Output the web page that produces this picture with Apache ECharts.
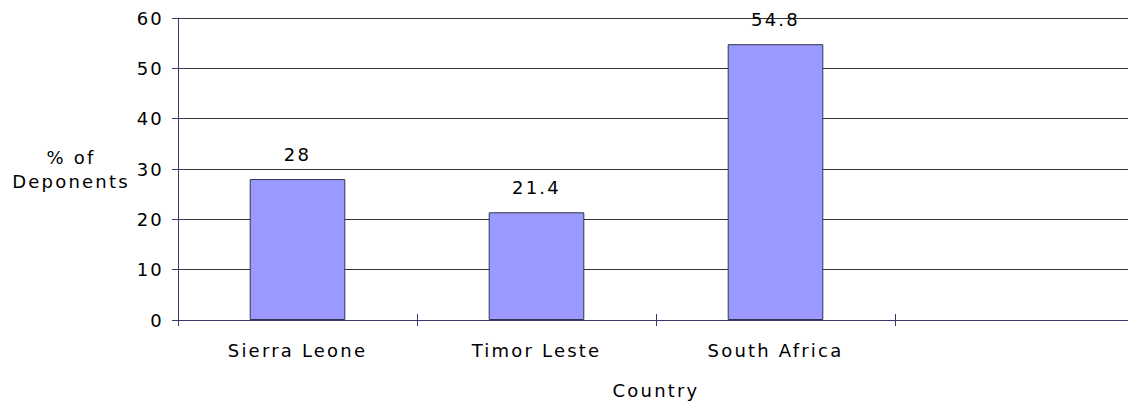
<!DOCTYPE html>
<html>
<head>
<meta charset="utf-8">
<script src="https://cdn.jsdelivr.net/npm/echarts@6/dist/echarts.min.js"></script>
<style>
  html, body { margin: 0; padding: 0; background: #fff; }
  #chart { width: 1128px; height: 404px; }
  #chart text { letter-spacing: 2.2px; }
</style>
</head>
<body>
<div id="chart"></div>
<script>
const categories = ['Sierra Leone', 'Timor Leste', 'South Africa', ''];
const values = [28, 21.4, 54.8, null];
const yTicks = { min: 0, max: 60, interval: 10 };
const yAxisName = '% of\nDeponents';
const xAxisName = 'Country';

const FONT = 'DejaVu Sans';
const chart = echarts.init(document.getElementById('chart'), null, { renderer: 'svg' });

const axisColor = '#3a3a6a';
const textBase = { color: '#000', fontFamily: FONT, fontSize: 18 };

chart.setOption({
  animation: false,
  backgroundColor: '#fff',
  grid: { left: 178, width: 956, top: 18, bottom: 84, containLabel: false, outerBoundsMode: 'none' },
  xAxis: [
    {
      type: 'category',
      data: categories,
      boundaryGap: true,
      axisLine: { show: true, lineStyle: { color: axisColor, width: 1 } },
      axisTick: { show: true, alignWithLabel: false, length: 6, lineStyle: { color: axisColor } },
      axisLabel: Object.assign({ margin: 21, interval: 0 }, textBase),
      name: xAxisName,
      nameLocation: 'middle',
      nameGap: 61,
      nameTextStyle: textBase,
      splitLine: { show: false }
    },
    {
      type: 'category',
      data: categories,
      position: 'bottom',
      boundaryGap: true,
      axisLine: { show: false },
      axisTick: { show: true, inside: true, length: 6, lineStyle: { color: axisColor } },
      axisLabel: { show: false },
      splitLine: { show: false }
    }
  ],
  yAxis: [
    {
      type: 'value',
      min: yTicks.min,
      max: yTicks.max,
      interval: yTicks.interval,
      axisLine: { show: true, lineStyle: { color: axisColor, width: 1 } },
      axisTick: { show: true, length: 6, lineStyle: { color: axisColor } },
      axisLabel: Object.assign({ margin: 14 }, textBase),
      splitLine: { show: true, lineStyle: { color: '#333', width: 1 } },
      name: yAxisName,
      nameLocation: 'middle',
      nameRotate: 0,
      nameGap: 107,
      nameTextStyle: Object.assign({ align: 'center', lineHeight: 24 }, textBase)
    },
    {
      type: 'value',
      min: yTicks.min,
      max: yTicks.max,
      interval: yTicks.interval,
      position: 'left',
      axisLine: { show: false },
      axisTick: { show: true, inside: true, length: 6, lineStyle: { color: axisColor } },
      axisLabel: { show: false },
      splitLine: { show: false }
    }
  ],
  series: [
    {
      type: 'bar',
      data: values,
      barWidth: '40%',
      itemStyle: { color: '#9999ff', borderColor: '#33334d', borderWidth: 1 },
      label: Object.assign({ show: true, position: 'top', distance: 16 }, textBase)
    }
  ]
});
</script>
</body>
</html>
